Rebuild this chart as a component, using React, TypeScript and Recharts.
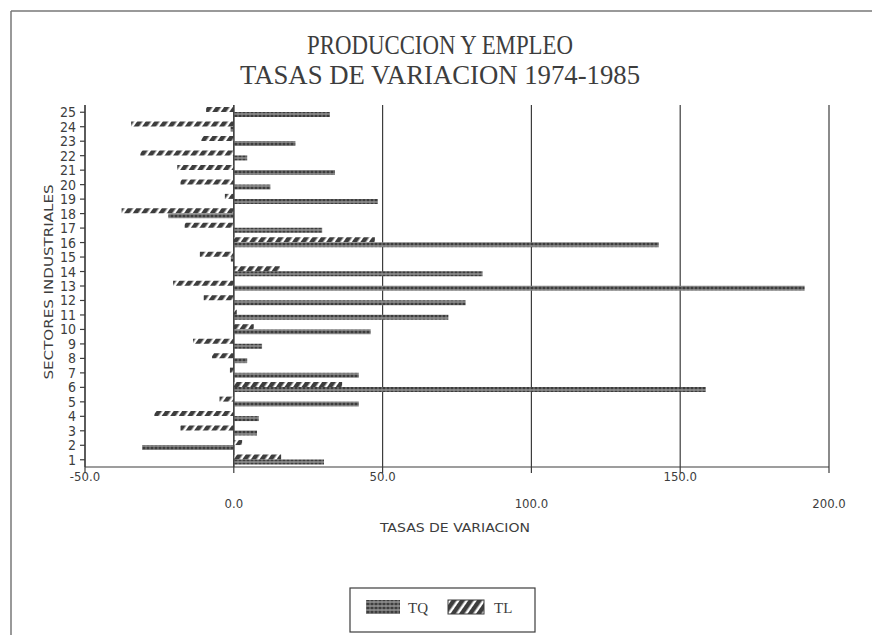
import { Bar, BarChart, CartesianGrid, ReferenceLine, XAxis, YAxis } from 'recharts';

// sectores 1..25
const sectores = [
  '1', '2', '3', '4', '5', '6', '7', '8', '9', '10', '11', '12', '13',
  '14', '15', '16', '17', '18', '19', '20', '21', '22', '23', '24', '25',
];
const tq = [
  30.3, -30.8, 7.8, 8.4, 42, 158.6, 42, 4.5, 9.5, 46, 72.1, 77.9, 191.8,
  83.6, -1, 142.8, 29.7, -22, 48.4, 12.3, 34, 4.5, 20.7, -1.1, 32.3,
];
const tl = [
  15.9, 2.8, -17.9, -26.7, -4.8, 36.4, -1.3, -7.3, -13.7, 6.7, 1, -10.1, -20.4,
  15.5, -11.4, 47.4, -16.5, -37.7, -3, -17.9, -19, -31.4, -10.9, -34.5, -9.3,
];
const xTicks = [-50, 0, 50, 100, 150, 200];

const data = sectores.map((s, i) => ({ sector: s, TQ: tq[i], TL: tl[i] }));

const INK = '#3d3d3d';
const FONT = '"DejaVu Sans Condensed", "DejaVu Sans", sans-serif';
const SERIF = '"Liberation Serif", serif';

function XTick(props: any) {
  const { x, y, payload, index } = props;
  const dy = index % 2 === 0 ? 6 : 33;
  return (
    <text x={x} y={y + dy} textAnchor="middle" fontFamily={FONT} fontSize={13} fill={INK}>
      {Number(payload.value).toFixed(1)}
    </text>
  );
}

function YTick(props: any) {
  const { x, y, payload } = props;
  return (
    <text x={x - 2} y={y + 5} textAnchor="end" fontFamily={FONT} fontSize={14} fill={INK}>
      {payload.value}
    </text>
  );
}

function Patterns() {
  return (
    <defs>
      <pattern id="tqPat" width="4" height="4" patternUnits="userSpaceOnUse">
        <rect width="4" height="4" fill={INK} />
        <rect x="0" y="1.6" width="4" height="0.8" fill="#d8d8d8" />
        <rect x="1.6" y="0" width="0.8" height="4" fill="#9a9a9a" />
      </pattern>
      <pattern id="tlPat" width="7" height="7" patternUnits="userSpaceOnUse" patternTransform="rotate(35)">
        <rect width="7" height="7" fill="#ffffff" />
        <rect width="4.5" height="7" fill={INK} />
      </pattern>
    </defs>
  );
}

export default function App() {
  return (
    <div style={{ position: 'absolute', left: 0, top: 0, width: 872, height: 635, background: '#fff' }}>
      <svg width={872} height={635} style={{ position: 'absolute', left: 0, top: 0 }}>
        <Patterns />
        <line x1={11} y1={11} x2={872} y2={11} stroke="#777" strokeWidth={1.5} />
        <line x1={11} y1={11} x2={11} y2={635} stroke="#777" strokeWidth={1.5} />
        <text x={440} y={54} textAnchor="middle" fontFamily={SERIF} fontSize={27}
          fill={INK} textLength={266} lengthAdjust="spacingAndGlyphs">
          PRODUCCION Y EMPLEO
        </text>
        <text x={440} y={84} textAnchor="middle" fontFamily={SERIF} fontSize={27}
          fill={INK} textLength={400} lengthAdjust="spacingAndGlyphs">
          TASAS DE VARIACION 1974-1985
        </text>
        <text x={0} y={0} transform="translate(53 282) rotate(-90)" textAnchor="middle"
          fontFamily={FONT} fontSize={12} fill={INK} textLength={195} lengthAdjust="spacingAndGlyphs">
          SECTORES INDUSTRIALES
        </text>
        <text x={455} y={532} textAnchor="middle" fontFamily={FONT} fontSize={12} fill={INK}
          textLength={150} lengthAdjust="spacingAndGlyphs">
          TASAS DE VARIACION
        </text>
        <rect x={350} y={588} width={185} height={44} fill="none" stroke={INK} strokeWidth={1.2} />
        <rect x={366} y={600} width={34} height={14} fill="url(#tqPat)" />
        <text x={408} y={613} fontFamily={SERIF} fontSize={15} fill={INK}>TQ</text>
        <rect x={448} y={600} width={36} height={14} fill="url(#tlPat)" stroke={INK} strokeWidth={1} />
        <text x={494} y={613} fontFamily={SERIF} fontSize={15} fill={INK}>TL</text>
      </svg>
      <div style={{ position: 'absolute', left: 0, top: 0 }}>
        <BarChart
          width={872}
          height={635}
          data={data}
          layout="vertical"
          margin={{ top: 105, right: 43, left: 0, bottom: 108 }}
          barCategoryGap="22%"
          barGap={0}
        >
          <Patterns />
          <CartesianGrid horizontal={false} vertical stroke={INK} strokeWidth={1.2} />
          <XAxis
            type="number"
            domain={[-50, 200]}
            ticks={xTicks}
            interval={0}
            stroke={INK}
            strokeWidth={1.2}
            tickSize={6}
            tick={<XTick />}
            height={60}
          />
          <XAxis xAxisId="top" orientation="top" type="number" domain={[-50, 200]} ticks={xTicks}
            tick={false} tickLine={false} stroke={INK} strokeWidth={1.2} height={0} />
          <YAxis
            type="category"
            dataKey="sector"
            reversed
            width={85}
            interval={0}
            stroke={INK}
            strokeWidth={1.2}
            tickSize={5}
            tick={<YTick />}
          />
          <ReferenceLine x={0} stroke={INK} strokeWidth={1.2} />
          <Bar dataKey="TL" fill="url(#tlPat)" isAnimationActive={false} barSize={5} />
          <Bar dataKey="TQ" fill="url(#tqPat)" isAnimationActive={false} barSize={5} />
        </BarChart>
      </div>
    </div>
  );
}
